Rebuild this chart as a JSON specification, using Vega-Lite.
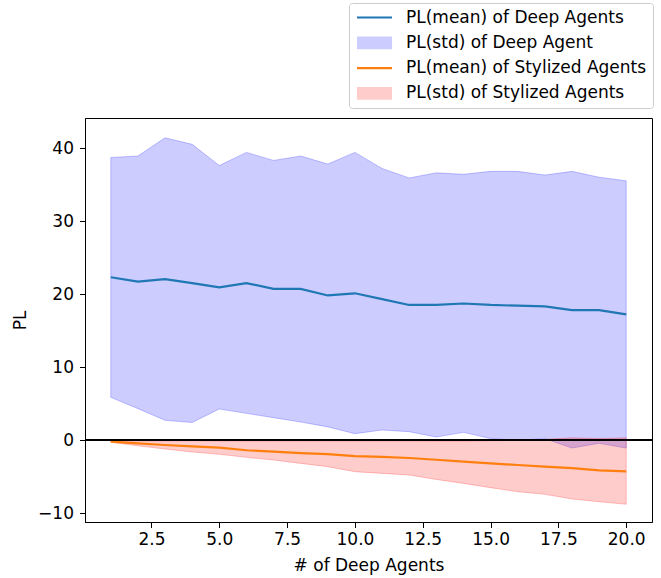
{
  "$schema": "https://vega.github.io/schema/vega-lite/v6.json",
  "width": 567,
  "height": 404,
  "autosize": {"type": "none"},
  "padding": {"left": 85, "top": 118, "right": 9, "bottom": 56},
  "config": {
    "font": "DejaVu Sans",
    "view": {"stroke": "#000000", "strokeWidth": 1},
    "axis": {
      "grid": false,
      "domainColor": "#000000",
      "domainWidth": 1,
      "tickColor": "#000000",
      "tickWidth": 1,
      "tickSize": 5.5,
      "labelColor": "#000000",
      "titleColor": "#000000",
      "labelFont": "DejaVu Sans",
      "titleFont": "DejaVu Sans",
      "labelFontSize": 17,
      "titleFontSize": 17,
      "titleFontWeight": "normal"
    }
  },
  "datasets": {
    "pl": [
      {"n": 1, "agent": "Deep", "mean": 22.3, "lo": 5.85, "hi": 38.7},
      {"n": 2, "agent": "Deep", "mean": 21.7, "lo": 4.3, "hi": 38.9},
      {"n": 3, "agent": "Deep", "mean": 22.05, "lo": 2.7, "hi": 41.4},
      {"n": 4, "agent": "Deep", "mean": 21.5, "lo": 2.4, "hi": 40.5},
      {"n": 5, "agent": "Deep", "mean": 20.9, "lo": 4.25, "hi": 37.6},
      {"n": 6, "agent": "Deep", "mean": 21.5, "lo": 3.65, "hi": 39.4},
      {"n": 7, "agent": "Deep", "mean": 20.7, "lo": 3.06, "hi": 38.3},
      {"n": 8, "agent": "Deep", "mean": 20.7, "lo": 2.47, "hi": 38.9},
      {"n": 9, "agent": "Deep", "mean": 19.8, "lo": 1.8, "hi": 37.8},
      {"n": 10, "agent": "Deep", "mean": 20.1, "lo": 0.87, "hi": 39.4},
      {"n": 11, "agent": "Deep", "mean": 19.3, "lo": 1.37, "hi": 37.2},
      {"n": 12, "agent": "Deep", "mean": 18.5, "lo": 1.14, "hi": 35.9},
      {"n": 13, "agent": "Deep", "mean": 18.5, "lo": 0.41, "hi": 36.6},
      {"n": 14, "agent": "Deep", "mean": 18.7, "lo": 1.05, "hi": 36.4},
      {"n": 15, "agent": "Deep", "mean": 18.5, "lo": 0.2, "hi": 36.8},
      {"n": 16, "agent": "Deep", "mean": 18.4, "lo": -0.05, "hi": 36.8},
      {"n": 17, "agent": "Deep", "mean": 18.3, "lo": 0.2, "hi": 36.3},
      {"n": 18, "agent": "Deep", "mean": 17.8, "lo": -1.1, "hi": 36.8},
      {"n": 19, "agent": "Deep", "mean": 17.8, "lo": -0.45, "hi": 36.0},
      {"n": 20, "agent": "Deep", "mean": 17.2, "lo": -1.1, "hi": 35.5},
      {"n": 1, "agent": "Stylized", "mean": -0.23, "lo": -0.3, "hi": -0.15},
      {"n": 2, "agent": "Stylized", "mean": -0.45, "lo": -0.8, "hi": -0.12},
      {"n": 3, "agent": "Stylized", "mean": -0.68, "lo": -1.23, "hi": -0.13},
      {"n": 4, "agent": "Stylized", "mean": -0.86, "lo": -1.64, "hi": -0.1},
      {"n": 5, "agent": "Stylized", "mean": -1.05, "lo": -1.96, "hi": -0.15},
      {"n": 6, "agent": "Stylized", "mean": -1.4, "lo": -2.37, "hi": -0.2},
      {"n": 7, "agent": "Stylized", "mean": -1.6, "lo": -2.74, "hi": -0.2},
      {"n": 8, "agent": "Stylized", "mean": -1.8, "lo": -3.2, "hi": -0.2},
      {"n": 9, "agent": "Stylized", "mean": -1.92, "lo": -3.65, "hi": -0.2},
      {"n": 10, "agent": "Stylized", "mean": -2.2, "lo": -4.34, "hi": -0.2},
      {"n": 11, "agent": "Stylized", "mean": -2.3, "lo": -4.57, "hi": -0.2},
      {"n": 12, "agent": "Stylized", "mean": -2.46, "lo": -4.8, "hi": -0.2},
      {"n": 13, "agent": "Stylized", "mean": -2.7, "lo": -5.4, "hi": -0.15},
      {"n": 14, "agent": "Stylized", "mean": -2.97, "lo": -5.94, "hi": -0.15},
      {"n": 15, "agent": "Stylized", "mean": -3.2, "lo": -6.53, "hi": -0.1},
      {"n": 16, "agent": "Stylized", "mean": -3.42, "lo": -7.08, "hi": -0.05},
      {"n": 17, "agent": "Stylized", "mean": -3.65, "lo": -7.44, "hi": 0.1},
      {"n": 18, "agent": "Stylized", "mean": -3.84, "lo": -8.08, "hi": 0.3},
      {"n": 19, "agent": "Stylized", "mean": -4.15, "lo": -8.45, "hi": 0.2},
      {"n": 20, "agent": "Stylized", "mean": -4.3, "lo": -8.8, "hi": 0.3}
    ]
  },
  "data": {"name": "pl"},
  "layer": [
    {
      "transform": [{"filter": "datum.agent == 'Deep'"}],
      "mark": {"type": "area", "fill": "#0000ff", "fillOpacity": 0.2, "stroke": "#0000ff", "strokeOpacity": 0.22, "strokeWidth": 1},
      "encoding": {
        "x": {
          "field": "n",
          "type": "quantitative",
          "scale": {"domain": [0.05, 20.95], "nice": false, "zero": false},
          "axis": {
            "values": [2.5, 5, 7.5, 10, 12.5, 15, 17.5, 20],
            "format": ".1f",
            "title": "# of Deep Agents",
            "labelPadding": 4,
            "titlePadding": 10,
            "labelFlush": false
          }
        },
        "y": {
          "field": "lo",
          "type": "quantitative",
          "scale": {"domain": [-11.23, 44.11], "nice": false, "zero": false},
          "axis": {
            "values": [-10, 0, 10, 20, 30, 40],
            "format": "d",
            "title": "PL",
            "labelPadding": 6,
            "titlePadding": 8
          }
        },
        "y2": {"field": "hi"}
      }
    },
    {
      "transform": [{"filter": "datum.agent == 'Stylized'"}],
      "mark": {"type": "area", "fill": "#ff0000", "fillOpacity": 0.2, "stroke": "#ff0000", "strokeOpacity": 0.22, "strokeWidth": 1},
      "encoding": {
        "x": {"field": "n", "type": "quantitative"},
        "y": {"field": "lo", "type": "quantitative"},
        "y2": {"field": "hi"}
      }
    },
    {
      "transform": [
        {"calculate": "datum.agent == 'Deep' ? 'PL(mean) of Deep Agents' : 'PL(mean) of Stylized Agents'", "as": "series"}
      ],
      "mark": {"type": "point", "filled": true, "size": 0, "opacity": 0},
      "encoding": {
        "x": {"field": "n", "type": "quantitative"},
        "y": {"field": "mean", "type": "quantitative"},
        "color": {
          "field": "series",
          "type": "nominal",
          "scale": {
            "domain": ["PL(mean) of Deep Agents", "PL(std) of Deep Agent", "PL(mean) of Stylized Agents", "PL(std) of Stylized Agents"],
            "range": ["#1f77b4", "#ccccff", "#ff7f0e", "#ffcccc"]
          },
          "legend": {
            "title": null,
            "orient": "none",
            "legendX": 264,
            "legendY": -115,
            "direction": "vertical",
            "symbolSize": 1225,
            "symbolOpacity": 1,
            "symbolStrokeWidth": 2.2,
            "symbolFillColor": {"expr": "indexof(datum.value,'Stylized')>=0 ? '#ffcccc' : '#ccccff'"},
            "clipHeight": 16,
            "rowPadding": 8.3,
            "labelOffset": 12.5,
            "padding": 6.5,
            "labelFont": "DejaVu Sans",
            "labelFontSize": 17,
            "labelColor": "#000000",
            "labelLimit": 400,
            "fillColor": "rgba(255,255,255,0.8)",
            "strokeColor": "#cccccc",
            "cornerRadius": 3
          }
        },
        "shape": {
          "field": "series",
          "type": "nominal",
          "scale": {
            "domain": ["PL(mean) of Deep Agents", "PL(std) of Deep Agent", "PL(mean) of Stylized Agents", "PL(std) of Stylized Agents"],
            "range": ["stroke", "M-0.94,-0.3H0.94V0.3H-0.94Z", "stroke", "M-0.94,-0.3H0.94V0.3H-0.94Z"]
          },
          "legend": {
            "title": null,
            "orient": "none",
            "legendX": 264,
            "legendY": -115,
            "direction": "vertical",
            "symbolSize": 1225,
            "symbolOpacity": 1,
            "symbolStrokeWidth": 2.2,
            "symbolFillColor": {"expr": "indexof(datum.value,'Stylized')>=0 ? '#ffcccc' : '#ccccff'"},
            "clipHeight": 16,
            "rowPadding": 8.3,
            "labelOffset": 12.5,
            "padding": 6.5,
            "labelFont": "DejaVu Sans",
            "labelFontSize": 17,
            "labelColor": "#000000",
            "labelLimit": 400,
            "fillColor": "rgba(255,255,255,0.8)",
            "strokeColor": "#cccccc",
            "cornerRadius": 3
          }
        }
      }
    },
    {
      "transform": [
        {"calculate": "datum.agent == 'Deep' ? 'PL(mean) of Deep Agents' : 'PL(mean) of Stylized Agents'", "as": "series"}
      ],
      "mark": {"type": "line", "strokeWidth": 2.2},
      "encoding": {
        "x": {"field": "n", "type": "quantitative"},
        "y": {"field": "mean", "type": "quantitative"},
        "color": {"field": "series", "type": "nominal"}
      }
    },
    {
      "data": {"values": [{}]},
      "mark": {"type": "rule", "color": "#000000", "strokeWidth": 1.8},
      "encoding": {"y": {"datum": 0}}
    }
  ]
}
